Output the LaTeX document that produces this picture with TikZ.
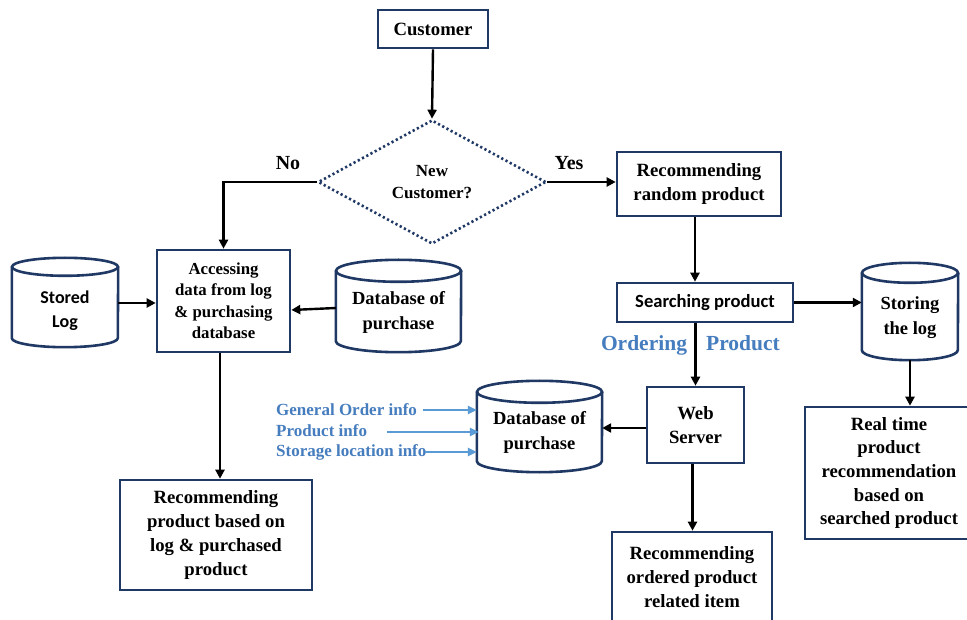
\documentclass[tikz,border=0pt]{standalone}
\usepackage{fontspec}
\setmainfont{Liberation Serif}
\newfontfamily\carl{Carlito}
\usetikzlibrary{shapes.geometric,arrows.meta}
\definecolor{navy}{RGB}{31,56,100}
\definecolor{bluetxt}{RGB}{70,125,190}
\definecolor{bluearr}{RGB}{91,155,213}
\newcommand\cylshape[3]{% name, x radius, y radius
  \draw[cylline] ([yshift=-#3pt]#1.north west) -- ([yshift=#3pt]#1.south west)
    arc[start angle=180,end angle=360,x radius=#2pt,y radius=#3pt]
    -- ([yshift=-#3pt]#1.north east);
  \draw[cylline] ([yshift=-#3pt]#1.north) ellipse[x radius=#2pt, y radius=#3pt];
}
\begin{document}
\begin{tikzpicture}[x=1pt,y=-1pt,
  box/.style={draw=navy, line width=2.6pt, fill=white, align=center, inner sep=0pt,
    font=\bfseries\fontsize{18.7}{23.7}\selectfont},
  smallbox/.style={box, font=\bfseries\fontsize{16.8}{21.5}\selectfont},
  shapeonly/.style={draw=none, inner sep=0pt},
  cylline/.style={draw=navy, line width=2.6pt},
  cyltext/.style={align=center, inner sep=0pt, font=\bfseries\fontsize{18.5}{24.5}\selectfont},
  decision/.style={diamond, draw=navy, line width=2.6pt, dash pattern=on 2.2pt off 2.6pt,
    minimum width=228pt, minimum height=124pt, aspect=1.84, inner sep=0pt, align=center,
    font=\bfseries\fontsize{17}{22}\selectfont},
  arr/.style={line width=2.4pt, -{Triangle[length=9pt,width=9pt]}},
  barr/.style={draw=bluearr, line width=2.2pt, -{Triangle[length=9pt,width=8pt]}},
  lbl/.style={inner sep=0pt, font=\bfseries\fontsize{20}{22}\selectfont},
  blbl/.style={inner sep=0pt, text=bluetxt, anchor=west, font=\bfseries\fontsize{17}{20}\selectfont},
  olbl/.style={inner sep=0pt, text=bluetxt, anchor=base, font=\bfseries\fontsize{21.5}{24}\selectfont}
]
\useasboundingbox[fill=white] (0,0) rectangle (967,620);

% boxes
\node[box, minimum width=110pt, minimum height=38pt] (cust) at (433,29) {Customer};
\node[decision] (dec) at (432,182) {New\\Customer?};
\node[smallbox, minimum width=133pt, minimum height=102pt] (acc) at (223.5,301)
  {Accessing\\data from log\\\& purchasing\\database};
\node[box, minimum width=192pt, minimum height=110pt] (rec1) at (216,535)
  {Recommending\\product based on\\log \& purchased\\product};
\node[box, minimum width=164pt, minimum height=64pt] (rrand) at (699,184)
  {Recommending\\random product};
\node[box, minimum width=176pt, minimum height=39pt, font=\carl\bfseries\fontsize{18.6}{21}\selectfont] (search) at (705,302.5)
  {Searching product};
\node[box, minimum width=168pt, minimum height=132pt] (real) at (889,473)
  {Real time\\product\\recommendation\\based on\\searched product};
\node[box, minimum width=97pt, minimum height=76pt] (web) at (695.5,425) {Web\\Server};
\node[box, minimum width=160pt, minimum height=90pt] (rec3) at (692,577)
  {Recommending\\ordered product\\related item};

% cylinders
\node[shapeonly, minimum width=106pt, minimum height=89pt] (slog) at (65,302.5) {};
\cylshape{slog}{53}{9}
\node[cyltext, font=\carl\bfseries\fontsize{18}{24}\selectfont] (slogt) at (65,311) {Stored\\Log};

\node[shapeonly, minimum width=125pt, minimum height=92pt] (db1) at (398.5,306) {};
\cylshape{db1}{62.5}{11}
\node[cyltext] (db1t) at (398.5,312.5) {Database of\\purchase};

\node[shapeonly, minimum width=96pt, minimum height=97pt] (slog2) at (910,311.5) {};
\cylshape{slog2}{48}{10}
\node[cyltext] (slog2t) at (910,317.5) {Storing\\the log};

\node[shapeonly, minimum width=125pt, minimum height=91pt] (db2) at (539.5,426.5) {};
\cylshape{db2}{62.5}{11}
\node[cyltext] (db2t) at (539.5,432.5) {Database of\\purchase};

% labels
\node[lbl] (no) at (288,163) {No};
\node[lbl] (yes) at (569,163) {Yes};
\node[olbl] (ord) at (644,351) {Ordering};
\node[olbl] (prod) at (743,351) {Product};
\node[blbl] (gen) at (276,410) {General Order info};
\node[blbl] (pinfo) at (276,431) {Product info};
\node[blbl] (stor) at (276,452) {Storage location info};
\coordinate (g1) at (423,410);
\coordinate (p1) at (387,432);
\coordinate (s1) at (425,452);

% connectors
\draw[arr] (dec.west) -| (acc.north);
\draw[arr] (cust.south) -- (dec.north);
\draw[arr] (dec.east) -- (dec.east -| rrand.west);
\draw[arr] (slog.east |- 0,303) -- (acc.west |- 0,303);
\draw[arr] (db1.west |- 0,308) -- (acc.east |- 0,310);
\draw[arr] ([xshift=-3.5pt]acc.south) -- ([xshift=-3.5pt]acc.south |- rec1.north);
\draw[arr] ([xshift=-4pt]rrand.south) -- ([xshift=-4pt]rrand.south |- search.north);
\draw[arr] (search.east) -- (search.east -| slog2.west);
\draw[arr] (slog2.south) -- (slog2.south |- real.north);
\draw[arr] (web.north |- search.south) -- (web.north);
\draw[arr] (web.west |- 0,428) -- (db2.east |- 0,428);
\draw[arr] ([xshift=-3pt]web.south) -- ([xshift=-3pt]web.south |- rec3.north);
\draw[barr] (g1) -- (g1 -| db2.west);
\draw[barr] (p1) -- ([xshift=2pt]p1 -| db2.west);
\draw[barr] (s1) -- (s1 -| db2.west);
\end{tikzpicture}
\end{document}
